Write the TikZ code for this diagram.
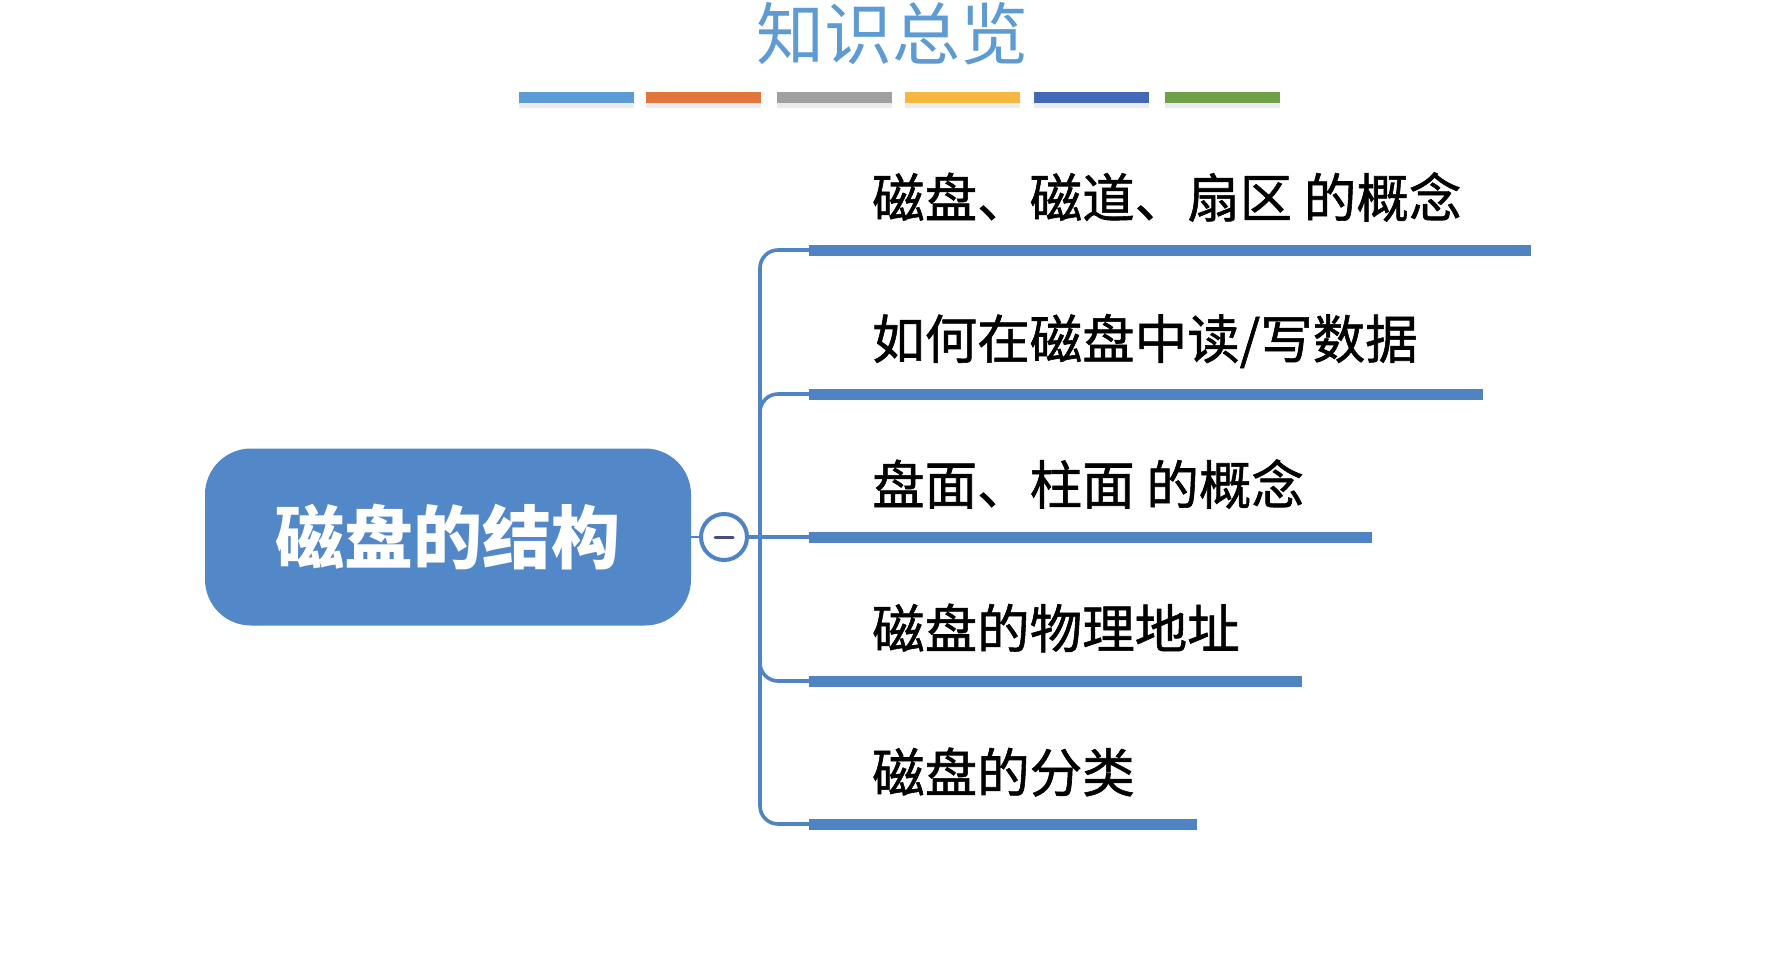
\documentclass[tikz,border=0pt]{standalone}
\usepackage{fontspec}
\newfontfamily\cjk{Noto Sans CJK SC}
\newfontfamily\cjkm{Noto Sans CJK SC}[FakeBold=1.1]
\definecolor{lineblue}{HTML}{4E83C4}
\definecolor{rootblue}{HTML}{5388C8}
\definecolor{titleblue}{HTML}{5F9BD3}
\definecolor{cA}{HTML}{5B9BD5}
\definecolor{cB}{HTML}{E2763A}
\definecolor{cC}{HTML}{A0A0A0}
\definecolor{cD}{HTML}{F5B73E}
\definecolor{cE}{HTML}{4169B8}
\definecolor{cF}{HTML}{70A045}
\tikzset{
  colorbar/.style={minimum width=115pt, minimum height=11pt, inner sep=0pt, draw=none},
  leaf/.style={anchor=west, inner sep=0pt, font=\cjkm\fontsize{52.5}{60}\selectfont, text=black},
  bar/.style={line width=11pt, draw=lineblue},
  branch/.style={line width=3.6pt, draw=lineblue, rounded corners=18pt},
  rootbox/.style={fill=rootblue, rounded corners=46pt, minimum width=486pt, minimum height=177pt, inner sep=0pt, text=white, font=\cjk\bfseries\fontsize{69}{78}\selectfont},
  fold/.style={circle, draw=lineblue, line width=4pt, fill=white, minimum size=46pt, inner sep=0pt}
}
\begin{document}
\begin{tikzpicture}[x=1pt,y=-1pt]
\useasboundingbox[fill=white] (0,0) rectangle (1782,953);
% title
\node (title) [text=titleblue, font=\cjk\fontsize{68}{76}\selectfont] at (892,34) {知识总览};
% colour bars
\foreach \x/\c/\n in {576/cA/k1, 703.5/cB/k2, 834/cC/k3, 962/cD/k4, 1091/cE/k5, 1222.5/cF/k6}{
  \node[colorbar, fill=black!8, minimum height=8pt] at (\x,104) {};
  \node (\n) [colorbar, fill=\c] at (\x,97.5) {};
}
% root
\node (root) [rootbox] at (448,537) {磁盘的结构};
\node (fold) [fold] at (724,537) {};
\draw[line width=2.5pt, draw=lineblue] (root.east) -- (fold.west);
\draw[line width=3pt, draw=black!45!blue!40!gray, line cap=round] ([xshift=-9pt]fold.center) -- ([xshift=9pt]fold.center);
% junction and bars
\coordinate (j) at (760,537);
\foreach \i/\y/\e in {1/250/1531, 2/394/1483, 3/537/1372, 4/681/1302, 5/824/1197}{
  \coordinate (b\i) at (809,\y);
  \coordinate (e\i) at (\e,\y);
}
\draw[branch] (fold.east) -- (b3);
\foreach \i in {1,2,4,5}{
  \draw[branch] (j) |- (b\i);
}
\foreach \i in {1,...,5}{
  \draw[bar] (b\i) -- (e\i);
}
% leaf texts
\node (t1) [leaf] at (872,197) {磁盘、磁道、扇区 的概念};
\node (t2) [leaf] at (872,341) {如何在磁盘中读/写数据};
\node (t3) [leaf] at (872,484) {盘面、柱面 的概念};
\node (t4) [leaf] at (872,628) {磁盘的物理地址};
\node (t5) [leaf] at (872,772) {磁盘的分类};
\end{tikzpicture}
\end{document}
